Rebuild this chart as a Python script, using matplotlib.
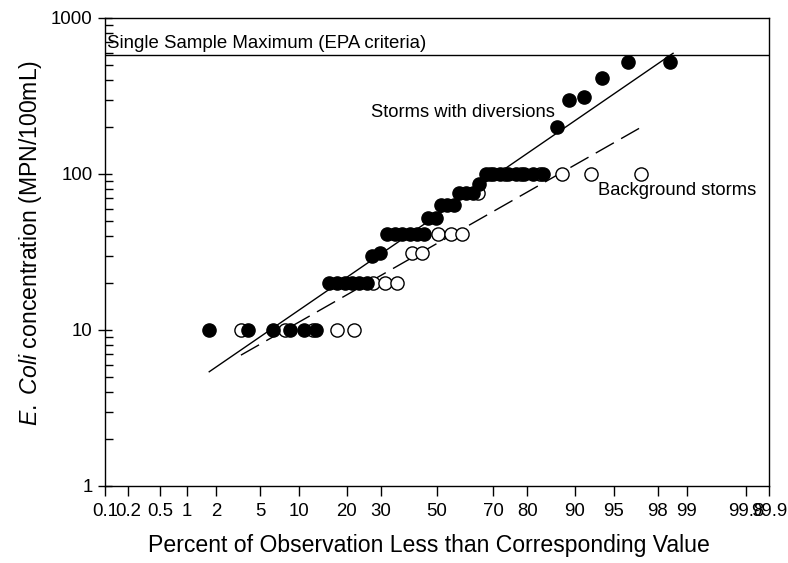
import numpy as np
import matplotlib
matplotlib.use("Agg")
import matplotlib.pyplot as plt
from matplotlib.ticker import FixedLocator, FixedFormatter, LogLocator, NullFormatter
from statistics import NormalDist

# ---------------- data ----------------
x_ticks = [0.1, 0.2, 0.5, 1, 2, 5, 10, 20, 30, 50, 70, 80, 90, 95, 98, 99, 99.8, 99.9]
x_tick_labels = ["0.1", "0.2", "0.5", "1", "2", "5", "10", "20", "30", "50",
                 "70", "80", "90", "95", "98", "99", "99.8", "99.9"]
y_ticks = [1, 10, 100, 1000]
y_tick_labels = ["1", "10", "100", "1000"]

# Storms with diversions (filled circles)
div_pct = [1.7, 3.9, 6.3, 8.5, 10.8, 13.0,
           15.7, 17.5, 19.5, 21.4, 23.5, 25.7,
           27.2, 29.9,
           32.1, 34.7, 37.3, 39.9, 42.7, 45.2,
           46.6, 49.5,
           51.4, 53.8, 56.3,
           58.2, 60.6, 63.0,
           65.3,
           67.6, 69.9, 72.2, 74.5, 76.8, 79.1, 81.4, 83.7,
           86.7, 89.1, 91.5, 93.8, 96.2, 98.5]
div_val = [10, 10, 10, 10, 10, 10,
           20, 20, 20, 20, 20, 20,
           30, 31,
           41, 41, 41, 41, 41, 41,
           52, 52,
           63, 63, 63,
           75, 75, 75,
           86,
           100, 100, 100, 100, 100, 100, 100, 100,
           200, 300, 310, 410, 520, 520]

# Background storms (open circles)
bg_pct = [3.4, 7.8, 12.5, 17.5, 22.1,
          27.5, 31.3, 35.6,
          40.9, 44.5,
          50.4, 55.1, 59.1,
          64.7,
          69.0, 73.7, 78.4, 83.0, 87.7, 92.4, 97.1]
bg_val = [10, 10, 10, 10, 10,
          20, 20, 20,
          31, 31,
          41, 41, 41,
          75,
          100, 100, 100, 100, 100, 100, 100]

# fitted lines (end points)
div_fit_pct = [1.7, 98.6]
div_fit_val = [5.4, 594]
bg_fit_pct = [3.4, 97.0]
bg_fit_val = [6.9, 196]

ssm_value = 576

# ---------------- style ----------------
plt.rcParams["font.family"] = ["Liberation Sans", "DejaVu Sans"]
plt.rcParams["mathtext.fontset"] = "custom"
plt.rcParams["mathtext.rm"] = "Liberation Sans"
plt.rcParams["mathtext.it"] = "Liberation Sans:italic"

nd = NormalDist()
_ppf = np.vectorize(lambda v: nd.inv_cdf(v / 100.0), otypes=[float])
_cdf = np.vectorize(lambda v: nd.cdf(v) * 100.0, otypes=[float])

def fwd(p):
    p = np.clip(np.asarray(p, dtype=float), 1e-6, 100 - 1e-6)
    return _ppf(p)

def inv(z):
    z = np.asarray(z, dtype=float)
    return _cdf(z)

fig = plt.figure(figsize=(7.88, 5.63), dpi=100)
ax = fig.add_axes([105 / 788, 1 - 486 / 563, (769 - 105) / 788, (486 - 18) / 563])

ax.set_xscale("function", functions=(fwd, inv))
ax.set_yscale("log")
ax.set_xlim(0.1, 99.9)
ax.set_ylim(1, 1000)

# lines
ax.axhline(ssm_value, color="black", lw=1.0)
ax.plot(div_fit_pct, div_fit_val, color="black", lw=1.0)
ax.plot(bg_fit_pct, bg_fit_val, color="black", lw=1.0, linestyle=(0, (15, 6)))

# points
ax.plot(bg_pct, bg_val, linestyle="none", marker="o", markersize=9.5,
        markerfacecolor="white", markeredgecolor="black", markeredgewidth=1.0, zorder=3)
ax.plot(div_pct, div_val, linestyle="none", marker="o", markersize=9.5,
        markerfacecolor="black", markeredgecolor="black", zorder=4)

# ticks
ax.xaxis.set_major_locator(FixedLocator(x_ticks))
ax.xaxis.set_major_formatter(FixedFormatter(x_tick_labels))
ax.xaxis.set_minor_locator(FixedLocator([]))
ax.yaxis.set_major_locator(FixedLocator(y_ticks))
ax.yaxis.set_major_formatter(FixedFormatter(y_tick_labels))
ax.yaxis.set_minor_locator(LogLocator(base=10, subs=np.arange(2, 10)))
ax.yaxis.set_minor_formatter(NullFormatter())

ax.tick_params(axis="x", which="major", direction="out", length=7, width=1,
               labelsize=13.4, pad=5)
ax.tick_params(axis="y", which="major", direction="inout", length=10, width=1,
               labelsize=13.4, pad=4)
ax.tick_params(axis="y", which="minor", direction="in", length=6, width=1)
for s in ax.spines.values():
    s.set_linewidth(1.0)

# texts
ax.text(0.107, 642, "Single Sample Maximum (EPA criteria)", fontsize=13.4,
        ha="left", va="baseline")
ax.text(27.1, 233, "Storms with diversions", fontsize=13.2, ha="left", va="baseline")
ax.text(93.3, 73.3, "Background storms", fontsize=13.2, ha="left", va="baseline")

ax.set_xlabel("Percent of Observation Less than Corresponding Value", fontsize=16.6)
ax.set_ylabel(r"$\mathit{E.}$ $\mathit{Coli}$ concentration (MPN/100mL)", fontsize=16.6)
ax.xaxis.set_label_coords(0.488, -0.1026)
ax.yaxis.set_label_coords(-0.092, 0.52)

fig.savefig("out.png", dpi=100)
